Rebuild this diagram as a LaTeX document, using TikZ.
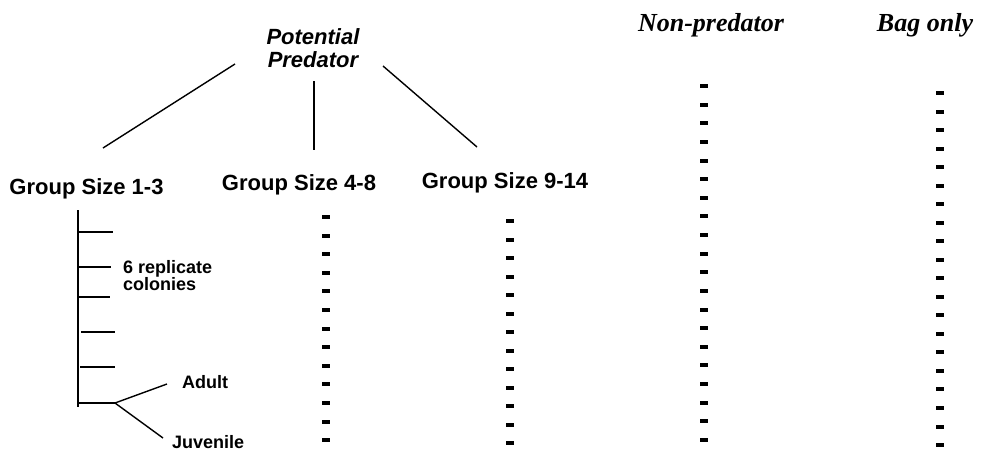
\documentclass[tikz,border=0pt]{standalone}
\usepackage{fontspec}
\setmainfont{Liberation Sans}
\newfontfamily\serifbi{Liberation Serif}
\usetikzlibrary{positioning,calc}

\tikzset{
  grouplabel/.style={font=\fontsize{22}{23}\selectfont\bfseries, inner sep=0pt},
  predlabel/.style={font=\fontsize{22}{23}\selectfont\bfseries\itshape, inner sep=0pt, align=center},
  smalllabel/.style={font=\fontsize{18}{17}\selectfont\bfseries, inner sep=0pt, align=left},
  treatlabel/.style={font=\serifbi\fontsize{26}{28}\selectfont\bfseries\itshape, inner sep=0pt},
  branch/.style={line width=1.4pt},
}

\begin{document}
\begin{tikzpicture}[x=1pt,y=-1pt]
\useasboundingbox (0,0) rectangle (983,450);

% top labels
\node[predlabel, anchor=north] (pred) at (313,28) {Potential\\Predator};
\node[treatlabel, anchor=base] (nonpred) at (711,31) {Non-predator};
\node[treatlabel, anchor=base] (bag) at (925,31) {Bag only};

% group sizes
\node[grouplabel, anchor=base] (g1) at (86.5,194) {Group Size 1-3};
\node[grouplabel, anchor=base] (g2) at (299,190) {Group Size 4-8};
\node[grouplabel, anchor=base] (g3) at (505,188) {Group Size 9-14};

% branches from the predator
\coordinate (p1) at (235,64);  \coordinate (e1) at (103,148);
\coordinate (p2) at (314,81);  \coordinate (e2) at (314,150);
\coordinate (p3) at (383,66);  \coordinate (e3) at (477,147);
\draw[branch] (p1) -- (e1);
\draw[branch] (p2) -- (e2);
\draw[branch] (p3) -- (e3);

% replicate colonies
\coordinate (stemtop) at (78,210);
\coordinate (stembot) at (78,407);
\draw[branch] (stemtop) -- (stembot);
\foreach \ty/\tx/\te in {232/78/113, 267/78/111, 297/78/110, 332/81/115, 367/80/115, 403/78/115}
  \draw[branch] (\tx,\ty) -- (\te,\ty);
\node[smalllabel, anchor=north west] (reps) at (123,260) {6 replicate\\colonies};

% adult / juvenile split
\node[smalllabel, anchor=base west] (adult) at (182,388) {Adult};
\node[smalllabel, anchor=base west] (juv) at (172,448) {Juvenile};
\coordinate (fork) at (115,403);
\coordinate (toadult) at (167,384);
\coordinate (tojuv) at (163,438);
\draw[branch] (fork) -- (toadult);
\draw[branch] (fork) -- (tojuv);

% dashed columns of colonies
\foreach \cx/\cy/\n/\dy in {326/217/12/18.6, 510/221/12/18.5, 704/86/19/18.63, 940/93/19/18.53}
  \foreach \i in {0,...,\n} {
    \pgfmathsetmacro\yy{\cy+\i*\dy}
    \fill ({\cx-4},{\yy-2}) rectangle ({\cx+4},{\yy+2});
  };

\end{tikzpicture}
\end{document}
